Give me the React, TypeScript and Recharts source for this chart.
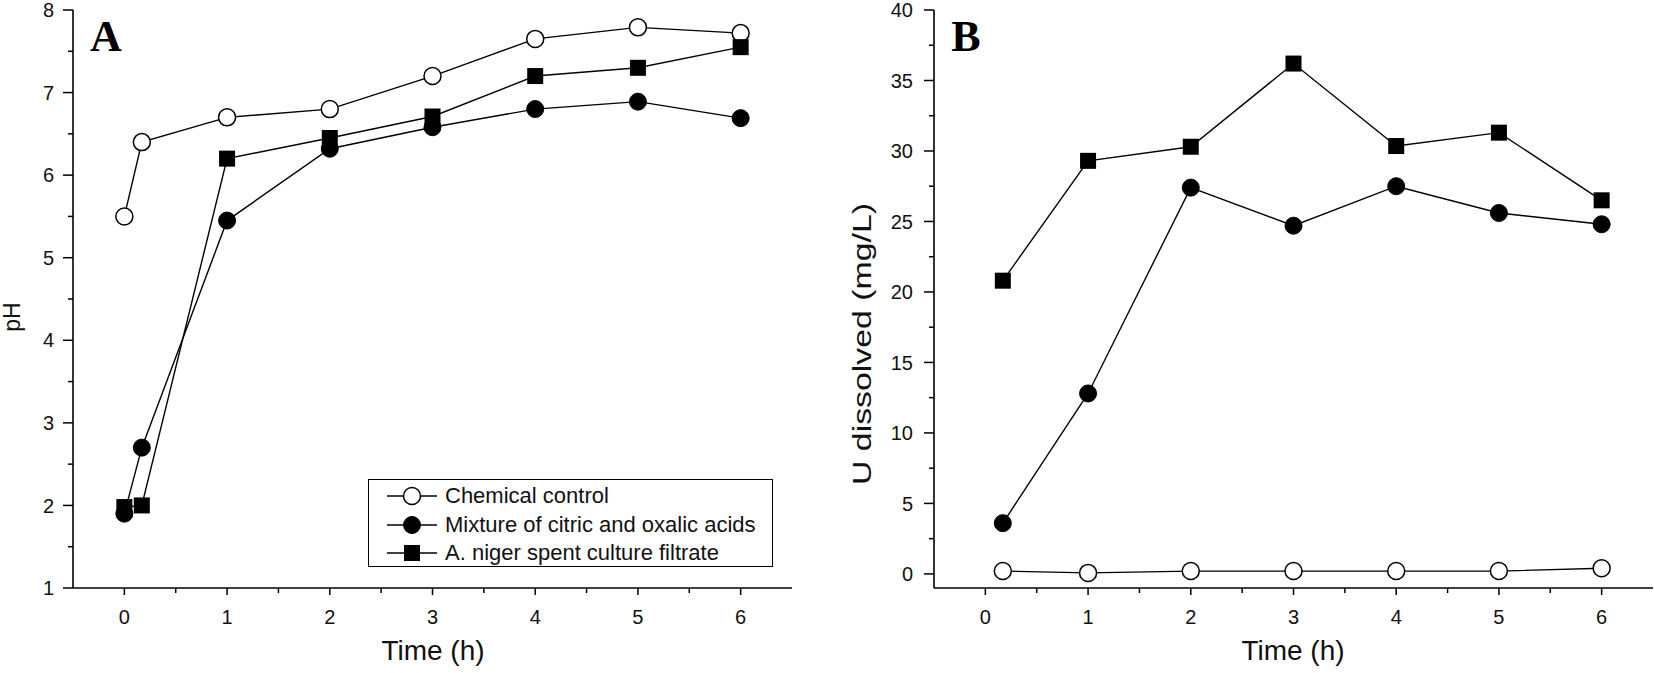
import React from 'react';
import { LineChart, Line, XAxis, YAxis, Legend } from 'recharts';

// panel A: pH over time
const timeA = [0, 0.17, 1, 2, 3, 4, 5, 6];
const phControl = [5.5, 6.4, 6.7, 6.8, 7.2, 7.65, 7.79, 7.72];
const phAcids = [1.9, 2.7, 5.45, 6.32, 6.58, 6.8, 6.89, 6.69];
const phFiltrate = [1.98, 2.0, 6.2, 6.45, 6.71, 7.2, 7.3, 7.55];

// panel B: dissolved uranium over time
const timeB = [0.17, 1, 2, 3, 4, 5, 6];
const uControl = [0.2, 0.07, 0.2, 0.2, 0.2, 0.2, 0.4];
const uAcids = [3.6, 12.8, 27.4, 24.7, 27.5, 25.6, 24.8];
const uFiltrate = [20.8, 29.3, 30.3, 36.2, 30.35, 31.3, 26.5];

const seriesNames = ['Chemical control', 'Mixture of citric and oxalic acids', 'A. niger spent culture filtrate'];

const timeTicks = [0, 0.5, 1, 1.5, 2, 2.5, 3, 3.5, 4, 4.5, 5, 5.5, 6];
const phTicks = [1, 1.5, 2, 2.5, 3, 3.5, 4, 4.5, 5, 5.5, 6, 6.5, 7, 7.5, 8];
const uTicks = [0, 2.5, 5, 7.5, 10, 12.5, 15, 17.5, 20, 22.5, 25, 27.5, 30, 32.5, 35, 37.5, 40];

const rowsA = timeA.map((t, i) => ({ t, control: phControl[i], acids: phAcids[i], filtrate: phFiltrate[i] }));
const rowsB = timeB.map((t, i) => ({ t, control: uControl[i], acids: uAcids[i], filtrate: uFiltrate[i] }));

const FONT = '"Liberation Sans", Arial, sans-serif';
const INK = '#111';
const frame = { stroke: '#000', strokeWidth: 1.6 };

const isInt = (v: number) => Math.abs(v - Math.round(v)) < 1e-9;
const isFive = (v: number) => Math.abs(v / 5 - Math.round(v / 5)) < 1e-9;

type Side = 'bottom' | 'top' | 'left' | 'right';

const makeTick = (side: Side, isMajor: (v: number) => boolean, labelGap = 0) => (props: any) => {
  const { x, y, payload } = props;
  const major = isMajor(payload.value);
  let line;
  let label = null;
  if (side === 'bottom') {
    line = <line x1={x} x2={x} y1={y} y2={y + (major ? 7 : 5)} stroke="#000" strokeWidth={1.5} />;
    if (major)
      label = (
        <text x={x} y={y + 36} textAnchor="middle" fontFamily={FONT} fontSize={20} fill={INK}>
          {payload.value}
        </text>
      );
  } else if (side === 'top') {
    line = <line x1={x} x2={x} y1={y} y2={y + (major ? 13 : 6)} stroke="#000" strokeWidth={1.5} />;
  } else if (side === 'left') {
    line = <line x1={x} x2={x - (major ? 10 : 5)} y1={y} y2={y} stroke="#000" strokeWidth={1.5} />;
    if (major)
      label = (
        <text x={x - labelGap} y={y} dy="0.36em" textAnchor="end" fontFamily={FONT} fontSize={20} fill={INK}>
          {payload.value}
        </text>
      );
  } else {
    line = <line x1={x} x2={x - (major ? 10 : 7)} y1={y} y2={y} stroke="#000" strokeWidth={1.5} />;
  }
  return (
    <g>
      {line}
      {label}
    </g>
  );
};

const OpenDot = (p: any) =>
  p.cx == null ? <g key={p.index} /> : <circle key={p.index} cx={p.cx} cy={p.cy} r={8.5} fill="#fff" stroke="#000" strokeWidth={1.5} />;
const FilledDot = (p: any) =>
  p.cx == null ? <g key={p.index} /> : <circle key={p.index} cx={p.cx} cy={p.cy} r={8.5} fill="#000" stroke="#000" />;
const SquareDot = (p: any) =>
  p.cx == null ? <g key={p.index} /> : <rect key={p.index} x={p.cx - 8} y={p.cy - 8} width={16} height={16} fill="#000" />;

const dotFor: Record<string, any> = { control: OpenDot, acids: FilledDot, filtrate: SquareDot };

// x-axis title plus the panel letter, drawn as the bottom axis label
const AxisTitles = (props: any) => {
  const { titleX, letter, letterX } = props;
  return (
    <g>
      <text x={titleX} y={660} textAnchor="middle" fontFamily={FONT} fontSize={28} fill={INK}>
        Time (h)
      </text>
      <text
        x={letterX}
        y={51}
        textAnchor="middle"
        fontFamily='"Liberation Serif", "Times New Roman", serif'
        fontWeight="bold"
        fontSize={44}
        fill="#000"
      >
        {letter}
      </text>
    </g>
  );
};

const YTitle = (props: any) => {
  const { tx, ty, text, size, stretch } = props;
  return (
    <text
      x={tx}
      y={ty}
      textAnchor="middle"
      dominantBaseline="central"
      transform={`rotate(-90, ${tx}, ${ty})`}
      fontFamily={FONT}
      fontSize={size}
      fill={INK}
      textLength={stretch}
      lengthAdjust={stretch ? 'spacingAndGlyphs' : undefined}
    >
      {text}
    </text>
  );
};

const LegendBox = (props: any) => {
  const entries = [...(props.payload || [])].sort(
    (a: any, b: any) => seriesNames.indexOf(a.value) - seriesNames.indexOf(b.value)
  );
  return (
    <div
      style={{
        border: '1.5px solid #000',
        boxSizing: 'border-box',
        width: 405,
        height: 88,
        paddingTop: 2,
        paddingLeft: 18,
        background: '#fff',
      }}
    >
      {entries.map((entry: any) => {
        const Dot = dotFor[entry.dataKey];
        return (
          <div key={entry.value} style={{ display: 'flex', alignItems: 'center', height: 28.5 }}>
            <svg width={52} height={20}>
              <line x1={0} x2={50} y1={10} y2={10} stroke="#000" strokeWidth={1.5} />
              <Dot cx={25} cy={10} index={0} />
            </svg>
            <span style={{ marginLeft: 6, fontFamily: FONT, fontSize: 22, color: INK, lineHeight: 1 }}>{entry.value}</span>
          </div>
        );
      })}
    </div>
  );
};

const seriesLines = (yId: string) =>
  (['control', 'acids', 'filtrate'] as const).map((key, i) => (
    <Line
      key={key}
      xAxisId="bottom"
      yAxisId={yId}
      type="linear"
      dataKey={key}
      name={seriesNames[i]}
      stroke="#000"
      strokeWidth={1.4}
      dot={dotFor[key]}
      activeDot={false}
      isAnimationActive={false}
    />
  ));

const mirrorAxes = (domain: number[], yTicks: number[], isMajorY: (v: number) => boolean) => [
  <XAxis
    key="top"
    xAxisId="top"
    orientation="top"
    type="number"
    domain={[-0.5, 6.5]}
    allowDataOverflow
    ticks={timeTicks}
    interval={0}
    height={0}
    tickSize={0}
    tickMargin={0}
    tickLine={false}
    axisLine={frame}
    tick={makeTick('top', isInt)}
  />,
  <YAxis
    key="right"
    yAxisId="right"
    orientation="right"
    type="number"
    domain={domain}
    allowDataOverflow
    ticks={yTicks}
    interval={0}
    width={0}
    tickSize={0}
    tickMargin={0}
    tickLine={false}
    axisLine={frame}
    tick={makeTick('right', isMajorY)}
  />,
];

export default function App() {
  return (
    <div style={{ position: 'absolute', left: 0, top: 0, width: 1654, height: 673, background: '#fff' }}>
      <div style={{ position: 'absolute', left: 0, top: 0 }}>
        <LineChart width={800} height={673} data={rowsA} margin={{ top: 10, right: 8, bottom: 0, left: 0 }}>
          <XAxis
            xAxisId="bottom"
            type="number"
            dataKey="t"
            domain={[-0.5, 6.5]}
            ticks={timeTicks}
            interval={0}
            height={85}
            tickSize={0}
            tickMargin={0}
            tickLine={false}
            axisLine={frame}
            tick={makeTick('bottom', isInt)}
            label={<AxisTitles titleX={433} letter="A" letterX={106} />}
          />
          <YAxis
            yAxisId="left"
            type="number"
            domain={[1, 8]}
            allowDataOverflow
            ticks={phTicks}
            interval={0}
            width={73}
            tickSize={0}
            tickMargin={0}
            tickLine={false}
            axisLine={frame}
            tick={makeTick('left', isInt, 19)}
            label={<YTitle tx={12} ty={317} text="pH" size={23} />}
          />
          {mirrorAxes([1, 8], phTicks, isInt)}
          {seriesLines('left')}
          <Legend
            layout="vertical"
            align="center"
            verticalAlign="middle"
            content={<LegendBox />}
            wrapperStyle={{ position: 'absolute', left: 368, top: 479, width: 405, height: 88 }}
          />
        </LineChart>
      </div>
      <div style={{ position: 'absolute', left: 840, top: 0 }}>
        <LineChart width={814} height={673} data={rowsB} margin={{ top: 10, right: 1, bottom: 0, left: 0 }}>
          <XAxis
            xAxisId="bottom"
            type="number"
            dataKey="t"
            domain={[-0.5, 6.5]}
            ticks={timeTicks}
            interval={0}
            height={85}
            tickSize={0}
            tickMargin={0}
            tickLine={false}
            axisLine={frame}
            tick={makeTick('bottom', isInt)}
            label={<AxisTitles titleX={453} letter="B" letterX={126} />}
          />
          <YAxis
            yAxisId="left"
            type="number"
            domain={[-1, 40]}
            allowDataOverflow
            ticks={uTicks}
            interval={0}
            width={94}
            tickSize={0}
            tickMargin={0}
            tickLine={false}
            axisLine={frame}
            tick={makeTick('left', isFive, 21)}
            label={<YTitle tx={22} ty={344} text="U dissolved (mg/L)" size={25} stretch={282} />}
          />
          {mirrorAxes([-1, 40], uTicks, isFive)}
          {seriesLines('left')}
        </LineChart>
      </div>
    </div>
  );
}
